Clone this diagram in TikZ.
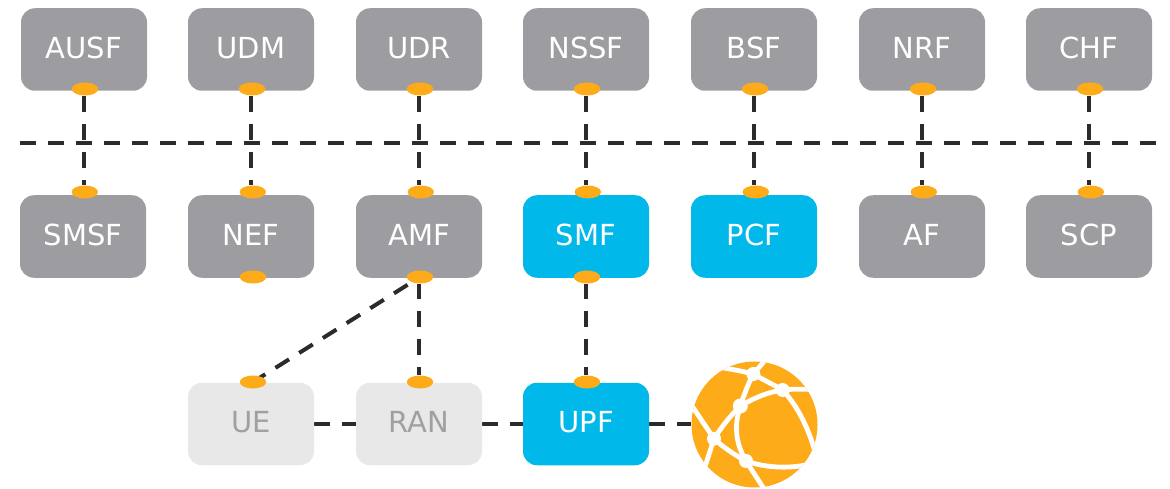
\documentclass[tikz,border=0pt]{standalone}
\usepackage{fontspec}
\setmainfont{DejaVu Sans}
\usetikzlibrary{shapes.geometric,backgrounds}
\definecolor{boxgray}{HTML}{9D9CA1}
\definecolor{boxlight}{HTML}{E8E8E8}
\definecolor{txtlight}{HTML}{A0A0A0}
\definecolor{boxblue}{HTML}{00B9EA}
\definecolor{dotorange}{HTML}{FDAB19}
\definecolor{linedark}{HTML}{2B2B2B}
\newcommand{\lbl}[1]{\raisebox{3.5pt}{#1}}
\tikzset{x=1pt,y=-1pt,
  nfbox/.style={rounded corners=14pt,minimum width=126pt,minimum height=82.5pt,inner sep=0pt,font=\fontsize{29}{34}\selectfont,text=white},
  grayfn/.style={nfbox,fill=boxgray},
  bluefn/.style={nfbox,fill=boxblue},
  lightfn/.style={nfbox,fill=boxlight,text=txtlight},
  port/.style={ellipse,fill=dotorange,minimum width=26.5pt,minimum height=13pt,inner sep=0pt},
  link/.style={draw=linedark,line width=4pt,dash pattern=on 16pt off 12pt},
  mesh/.style={draw=white,line width=4.8pt},
  meshdot/.style={circle,fill=white,minimum size=14pt,inner sep=0pt}
}
\begin{document}
\begin{tikzpicture}
\useasboundingbox (0,0) rectangle (1170,489);
% top row
\foreach \n/\t/\x in {a/AUSF/84,b/UDM/251,c/UDR/419,d/NSSF/586,e/BSF/754,f/NRF/922,g/CHF/1089}{
  \node[grayfn] (top\n) at (\x,49.5) {\lbl{\t}};
  \node[port] (tp\n) at (\x+1,89) {};
}
% middle row
\foreach \n/\t/\x/\s in {a/SMSF/83/grayfn,b/NEF/251/grayfn,c/AMF/419/grayfn,d/SMF/586/bluefn,e/PCF/754/bluefn,f/AF/922/grayfn,g/SCP/1089/grayfn}{
  \node[\s] (mid\n) at (\x,236.5) {\lbl{\t}};
  \node[port] (mp\n) at (\x+1.8,192) {};
}
\node[port] (lowb) at (253,277) {};
\node[port] (lowc) at (420,277) {};
\node[port] (lowd) at (587,277) {};
% bottom row
\node[lightfn] (ue) at (251,424) {\lbl{UE}};
\node[lightfn] (ran) at (419,424) {\lbl{RAN}};
\node[bluefn] (upf) at (586,424) {\lbl{UPF}};
\node[port] (pue) at (253,382) {};
\node[port] (pran) at (420,382) {};
\node[port] (pupf) at (587,382) {};
% horizontal divider ends
\coordinate (divl) at (20,143);
\coordinate (divr) at (1156,143);
% globe
\node[circle,fill=dotorange,minimum size=126pt,inner sep=0pt] (globe) at (754.5,424.5) {};
\begin{scope}
\clip (globe.center) circle (63pt);
\coordinate (ga) at (753.3,374);
\coordinate (gb) at (782.7,390);
\coordinate (gc) at (740.3,406);
\coordinate (gd) at (714,438.7);
\coordinate (ge) at (746,461);
\draw[mesh] (718,367) .. controls (730,369) and (742,371) .. (ga);
\draw[mesh] (ga) -- (767,358);
\draw[mesh] (ga) .. controls (762,379) and (772,384) .. (gb);
\draw[mesh] (gb) .. controls (792,389) and (800,389) .. (812,389.5);
\draw[mesh] (gb) .. controls (799,408) and (809,430) .. (815,452);
\draw[mesh] (ga) .. controls (748,384) and (744,395) .. (gc);
\draw[mesh] (gc) .. controls (754,398) and (768,392) .. (gb);
\draw[mesh] (gc) .. controls (729,417) and (721,428) .. (gd);
\draw[mesh] (gc) .. controls (733,428) and (737,446) .. (ge);
\draw[mesh] (gd) -- (690,403);
\draw[mesh] (gd) -- (704,470);
\draw[mesh] (gd) .. controls (724,448) and (735,455) .. (ge);
\draw[mesh] (ge) .. controls (766,468) and (790,469) .. (810,464);
\draw[mesh] (ge) -- (766,492);
\end{scope}
\node[meshdot] at (ga) {};
\node[meshdot] at (gb) {};
\node[meshdot,minimum size=15pt] at (gc) {};
\node[meshdot] at (gd) {};
\node[meshdot] at (ge) {};
% connectors
\begin{scope}[on background layer]
\foreach \n in {a,b,c,d,e,f,g}{
  \draw[link] (tp\n.south -| top\n.south) -- (mp\n.north -| top\n.south);
}
\draw[link] (divl) -- (divr);
\draw[link,dash phase=.8pt] (lowc.south -| midc.south) -- (pran.north -| midc.south);
\draw[link,dash phase=.8pt] (lowd.south -| midd.south) -- (pupf.north -| midd.south);
\draw[link,dash phase=13.3pt] (lowc.center) -- (pue.center);
\draw[link] (ue.east) -- (ran.west);
\draw[link] (ran.east) -- (upf.west);
\draw[link] (upf.east) -- (upf.east -| globe.west);
\end{scope}
\end{tikzpicture}
\end{document}
